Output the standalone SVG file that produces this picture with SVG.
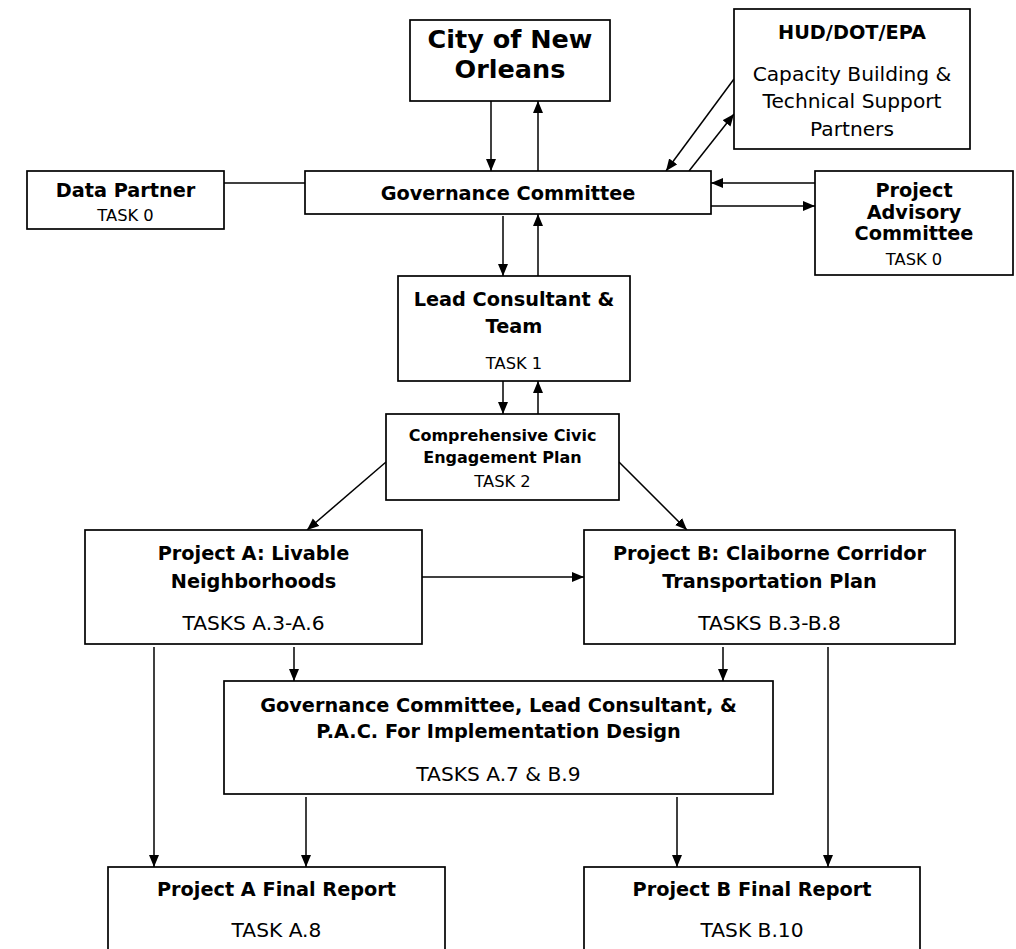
<svg xmlns="http://www.w3.org/2000/svg" width="1016" height="949" viewBox="0 0 1016 949">
<defs>
<marker id="ah" markerUnits="userSpaceOnUse" markerWidth="13" markerHeight="11" refX="12" refY="5" orient="auto">
<path d="M0,0 L12,5 L0,10 z" fill="#000"/>
</marker>
<style>
rect{fill:#fff;stroke:#000;stroke-width:1.7}
text{font-family:"DejaVu Sans","Liberation Sans",sans-serif;text-anchor:middle;fill:#000}
.b{font-weight:bold;font-size:19.3px}
.r{font-size:20.2px}
.s{font-size:16.3px}
.sb{font-weight:bold;font-size:16px}
.big{font-weight:bold;font-size:25.5px}
#connectors line{stroke:#000;stroke-width:1.5}
.a{marker-end:url(#ah)}
</style>
</defs>
<rect x="0" y="0" width="1016" height="949" style="fill:#fff;stroke:none"/>
<g id="connectors">
<line class="a" x1="491" y1="101" x2="491" y2="171"/>
<line class="a" x1="538" y1="171" x2="538" y2="101"/>
<line class="a" x1="503" y1="216" x2="503" y2="276"/>
<line class="a" x1="538" y1="276" x2="538" y2="214"/>
<line class="a" x1="503" y1="381" x2="503" y2="414"/>
<line class="a" x1="538" y1="414" x2="538" y2="381"/>
<line x1="224" y1="183" x2="305" y2="183"/>
<line class="a" x1="734" y1="79" x2="666" y2="171"/>
<line class="a" x1="689" y1="171" x2="734" y2="114"/>
<line class="a" x1="815" y1="183" x2="711" y2="183"/>
<line class="a" x1="711" y1="206" x2="815" y2="206"/>
<line class="a" x1="386" y1="462" x2="307" y2="530"/>
<line class="a" x1="619" y1="462" x2="687" y2="530"/>
<line class="a" x1="422" y1="577" x2="584" y2="577"/>
<line class="a" x1="154" y1="647" x2="154" y2="867"/>
<line class="a" x1="294" y1="647" x2="294" y2="681"/>
<line class="a" x1="723" y1="647" x2="723" y2="681"/>
<line class="a" x1="828" y1="647" x2="828" y2="867"/>
<line class="a" x1="306" y1="797" x2="306" y2="867"/>
<line class="a" x1="677" y1="797" x2="677" y2="867"/>
</g>
<g id="city">
<rect x="410" y="20" width="200" height="81"/>
<text class="big" x="510" y="48">City of New</text>
<text class="big" x="510" y="78">Orleans</text>
</g>
<g id="hud">
<rect x="734" y="9" width="236" height="140"/>
<text class="b" x="852" y="39">HUD/DOT/EPA</text>
<text class="r" x="852" y="81">Capacity Building &amp;</text>
<text class="r" x="852" y="108">Technical Support</text>
<text class="r" x="852" y="136">Partners</text>
</g>
<g id="data-partner">
<rect x="27" y="171" width="197" height="58"/>
<text class="b" x="125.5" y="197">Data Partner</text>
<text class="s" x="125.5" y="221">TASK 0</text>
</g>
<g id="governance">
<rect x="305" y="171" width="406" height="43"/>
<text class="b" x="508" y="200">Governance Committee</text>
</g>
<g id="pac">
<rect x="815" y="171" width="198" height="104"/>
<text class="b" x="914" y="197">Project</text>
<text class="b" x="914" y="219">Advisory</text>
<text class="b" x="914" y="240">Committee</text>
<text class="s" x="914" y="265">TASK 0</text>
</g>
<g id="lead">
<rect x="398" y="276" width="232" height="105"/>
<text class="b" x="514" y="306">Lead Consultant &amp;</text>
<text class="b" x="514" y="333">Team</text>
<text class="s" x="514" y="369">TASK 1</text>
</g>
<g id="civic">
<rect x="386" y="414" width="233" height="86"/>
<text class="sb" x="502.5" y="441">Comprehensive Civic</text>
<text class="sb" x="502.5" y="463">Engagement Plan</text>
<text class="s" x="502.5" y="487">TASK 2</text>
</g>
<g id="project-a">
<rect x="85" y="530" width="337" height="114"/>
<text class="b" x="253.5" y="560">Project A: Livable</text>
<text class="b" x="253.5" y="588">Neighborhoods</text>
<text class="r" x="253.5" y="630">TASKS A.3-A.6</text>
</g>
<g id="project-b">
<rect x="584" y="530" width="371" height="114"/>
<text class="b" x="769.5" y="560">Project B: Claiborne Corridor</text>
<text class="b" x="769.5" y="588">Transportation Plan</text>
<text class="r" x="769.5" y="630">TASKS B.3-B.8</text>
</g>
<g id="implementation">
<rect x="224" y="681" width="549" height="113"/>
<text class="b" x="498.5" y="712">Governance Committee, Lead Consultant, &amp;</text>
<text class="b" x="498.5" y="738">P.A.C. For Implementation Design</text>
<text class="r" x="498.5" y="781">TASKS A.7 &amp; B.9</text>
</g>
<g id="final-a">
<rect x="108" y="867" width="337" height="95"/>
<text class="b" x="276.5" y="896">Project A Final Report</text>
<text class="r" x="276.5" y="937">TASK A.8</text>
</g>
<g id="final-b">
<rect x="584" y="867" width="336" height="95"/>
<text class="b" x="752" y="896">Project B Final Report</text>
<text class="r" x="752" y="937">TASK B.10</text>
</g>
</svg>
